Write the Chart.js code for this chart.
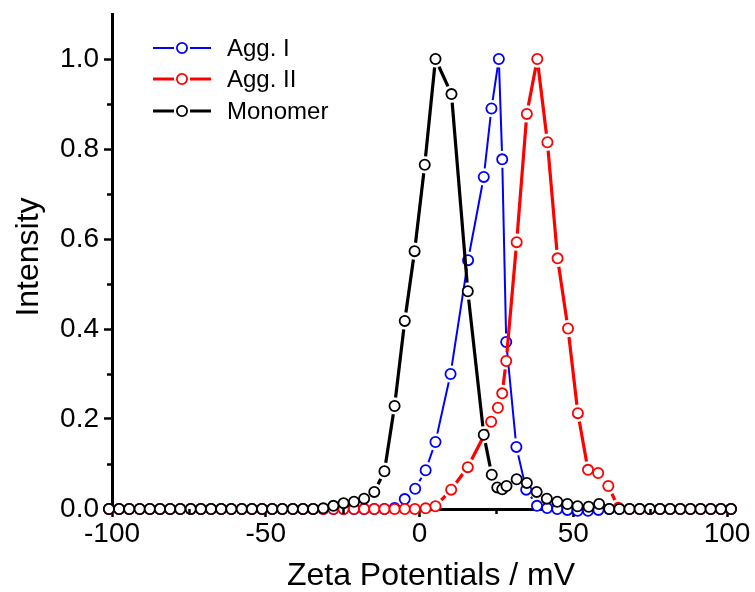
<!DOCTYPE html>
<html><head><meta charset="utf-8">
<script src="https://cdn.jsdelivr.net/npm/chart.js@4.4.1/dist/chart.umd.min.js"></script>
<style>html,body{margin:0;padding:0;background:#fff}canvas{display:block}</style>
</head><body>
<canvas id="c" width="755" height="592"></canvas>
<script>
// ---- data ----
const seriesNames = ['Agg. I', 'Agg. II', 'Monomer'];

const agg1X = [-101.0,-97.7,-94.4,-91.0,-87.7,-84.4,-81.1,-77.8,-74.4,-71.1,-67.8,-64.5,-61.2,-57.8,-54.5,-51.2,-47.9,-44.6,-41.2,-37.9,-34.6,-31.3,-28.0,-24.7,-21.3,-18.0,-14.7,-11.4,
  -8.1,-4.8,-1.4,2.0,5.2,10.1,15.8,20.9,23.4,25.8,26.9,28.2,31.5,34.7,38.2,41.5,44.8,48.1,51.4,54.8,58.2,
  61.7,65.0,68.3,71.6,74.9,78.2,81.5,84.8,88.1,91.4,94.7,98.0,101.3];
const agg1Y = [0,0,0,0,0,0,0,0,0,0,0,0,0,0,0,0,0,0,0,0,0,0,0,0,0,0,0,0,
  0.002,0.022,0.045,0.086,0.149,0.300,0.553,0.738,0.890,1.000,0.777,0.371,0.138,0.043,0.007,0.002,0.000,-0.002,-0.004,-0.004,-0.002,
  0,0,0,0,0,0,0,0,0,0,0,0,0];

const agg2X = [-101.0,-97.7,-94.4,-91.0,-87.7,-84.4,-81.1,-77.8,-74.4,-71.1,-67.8,-64.5,-61.2,-57.8,-54.5,-51.2,-47.9,-44.6,-41.2,-37.9,-34.6,-31.3,-28.0,-24.7,-21.3,-18.0,-14.7,-11.4,-8.1,
  -4.8,-1.5,2.0,5.2,10.3,15.7,23.3,25.5,26.9,28.2,31.6,34.9,38.3,41.6,44.9,48.3,51.5,54.8,58.1,61.4,64.7,
  68.3,71.6,74.9,78.2,81.5,84.8,88.1,91.4,94.7,98.0,101.3];
const agg2Y = [0,0,0,0,0,0,0,0,0,0,0,0,0,0,0,0,0,0,0,0,0,0,0,0,0,0,0,0,0,
  0,0,0.0015,0.006,0.043,0.093,0.194,0.225,0.257,0.329,0.593,0.878,1.000,0.815,0.557,0.401,0.213,0.087,0.080,0.051,0.003,
  0,0,0,0,0,0,0,0,0,0,0];

const monomerX = [-101.0,-97.7,-94.4,-91.0,-87.7,-84.4,-81.1,-77.8,-74.4,-71.1,-67.8,-64.5,-61.2,-57.8,-54.5,-51.2,-47.9,-44.6,-41.2,-37.9,-34.6,
  -31.3,-28.0,-24.7,-21.3,-18.0,-14.7,-11.4,-8.1,-4.8,
  -1.6,1.7,5.2,10.4,15.7,20.9,23.5,25.3,26.9,28.3,31.6,34.9,38.1,41.4,44.8,48.1,51.4,55.0,58.4,
  61.7,65.0,68.3,71.6,74.9,78.2,81.5,84.8,88.1,91.4,94.7,98.0,101.3];
const monomerY = [0,0,0,0,0,0,0,0,0,0,0,0,0,0,0,0,0,0,0,0,0,
  0.0015,0.007,0.013,0.016,0.023,0.038,0.084,0.229,0.418,
  0.573,0.765,1.000,0.922,0.484,0.165,0.076,0.048,0.044,0.051,0.066,0.058,0.038,0.023,0.016,0.011,0.006,0.005,0.011,
  0,0,0,0,0,0,0,0,0,0,0,0,0];

const xTicks = [-100, -50, 0, 50, 100];
const xMinorTicks = [-75, -25, 25, 75];
const yTicks = [0, 0.2, 0.4, 0.6, 0.8, 1.0];
const yMinorTicks = [0.1, 0.3, 0.5, 0.7, 0.9];
const xTitle = 'Zeta Potentials / mV';
const yTitle = 'Intensity';

// ---- styling ----
const FONT = '"Liberation Sans", Arial, Helvetica, sans-serif';
const colors = ['#0000ff', '#ff0000', '#000000'];
const lineWidths = [2, 3.2, 3.2];
const drawOrder = [2, 1, 0]; // Monomer on top, then Agg. II, then Agg. I
const PR = 5.1, PBW = 1.8;
const GAP = 8.5; // line gap around each marker (Origin style)

function pts(xs, ys) { return xs.map((x, i) => ({ x: x, y: ys[i] })); }
const seriesData = [pts(agg1X, agg1Y), pts(agg2X, agg2Y), pts(monomerX, monomerY)];

function gapDash(c) {
  const L = Math.hypot(c.p1.x - c.p0.x, c.p1.y - c.p0.y);
  return L > 2 * GAP ? [0, GAP, L - 2 * GAP, GAP + 50] : [0, L + 50];
}

const datasets = seriesData.map((d, i) => ({
  label: seriesNames[i],
  data: d,
  order: drawOrder[i],
  showLine: true,
  borderColor: colors[i],
  backgroundColor: '#ffffff',
  borderWidth: lineWidths[i],
  borderJoinStyle: 'round',
  segment: { borderDash: gapDash },
  pointRadius: PR,
  pointBorderWidth: PBW,
  pointBorderColor: colors[i],
  pointBackgroundColor: '#ffffff',
  tension: 0,
  clip: false
}));

const extras = {
  id: 'extras',
  afterDraw(chart) {
    const { ctx, scales: { x, y }, chartArea: a } = chart;
    ctx.save();
    // minor ticks
    ctx.strokeStyle = '#000';
    ctx.lineWidth = 2.5;
    ctx.beginPath();
    yMinorTicks.forEach(v => { const py = Math.round(y.getPixelForValue(v)) + 0.5; ctx.moveTo(a.left, py); ctx.lineTo(a.left - 5, py); });
    xMinorTicks.forEach(v => { const px = Math.round(x.getPixelForValue(v)) + 0.5; ctx.moveTo(px, a.bottom); ctx.lineTo(px, a.bottom + 5); });
    ctx.stroke();
    // axis titles
    ctx.fillStyle = '#000';
    ctx.font = '32px ' + FONT;
    ctx.textAlign = 'center';
    ctx.textBaseline = 'alphabetic';
    ctx.fillText(xTitle, 431, 585);
    ctx.save();
    ctx.translate(38, 257);
    ctx.rotate(-Math.PI / 2);
    ctx.fillText(yTitle, 0, 0);
    ctx.restore();
    // legend
    const rowY = [48, 79, 111];
    chart.data.datasets.forEach((ds, i) => {
      const yy = rowY[i];
      ctx.strokeStyle = ds.borderColor;
      ctx.lineWidth = ds.borderWidth;
      ctx.setLineDash([]);
      ctx.beginPath();
      ctx.moveTo(153, yy); ctx.lineTo(174, yy);
      ctx.moveTo(190, yy); ctx.lineTo(211, yy);
      ctx.stroke();
      ctx.beginPath();
      ctx.arc(182, yy, PR, 0, Math.PI * 2);
      ctx.fillStyle = '#fff';
      ctx.fill();
      ctx.lineWidth = PBW;
      ctx.stroke();
      ctx.fillStyle = '#000';
      ctx.font = '24px ' + FONT;
      ctx.textAlign = 'left';
      ctx.textBaseline = 'middle';
      ctx.fillText(ds.label, 227, yy + 1);
    });
    ctx.restore();
  }
};

function noPad(s) { s.paddingTop = 0; s.paddingBottom = 0; s.paddingLeft = 0; s.paddingRight = 0; }

new Chart(document.getElementById('c'), {
  type: 'scatter',
  data: { datasets: datasets },
  options: {
    responsive: false,
    animation: false,
    devicePixelRatio: 1,
    layout: { padding: { left: 0, right: 28, top: 14, bottom: 0 } },
    plugins: { legend: { display: false }, tooltip: { enabled: false } },
    scales: {
      x: {
        type: 'linear', min: -100, max: 100,
        afterBuildTicks: s => { s.ticks = xTicks.map(v => ({ value: v })); },
        afterFit: s => { s.height = 83; noPad(s); },
        ticks: { color: '#000', font: { family: FONT, size: 28 }, padding: 0, maxRotation: 0, autoSkip: false,
          callback: v => String(v) },
        grid: { drawOnChartArea: false, drawTicks: true, tickLength: 8, tickWidth: 2.5, tickColor: '#000' },
        border: { display: true, color: '#000', width: 3 }
      },
      y: {
        type: 'linear', min: 0, max: 1.1,
        afterBuildTicks: s => { s.ticks = yTicks.map(v => ({ value: v })); },
        afterFit: s => { s.width = 112; noPad(s); },
        ticks: { color: '#000', font: { family: FONT, size: 28 }, padding: 5, autoSkip: false,
          callback: v => Number(v).toFixed(1) },
        grid: { drawOnChartArea: false, drawTicks: true, tickLength: 8, tickWidth: 2.5, tickColor: '#000' },
        border: { display: true, color: '#000', width: 3 }
      }
    }
  },
  plugins: [extras]
});
</script>
</body></html>
